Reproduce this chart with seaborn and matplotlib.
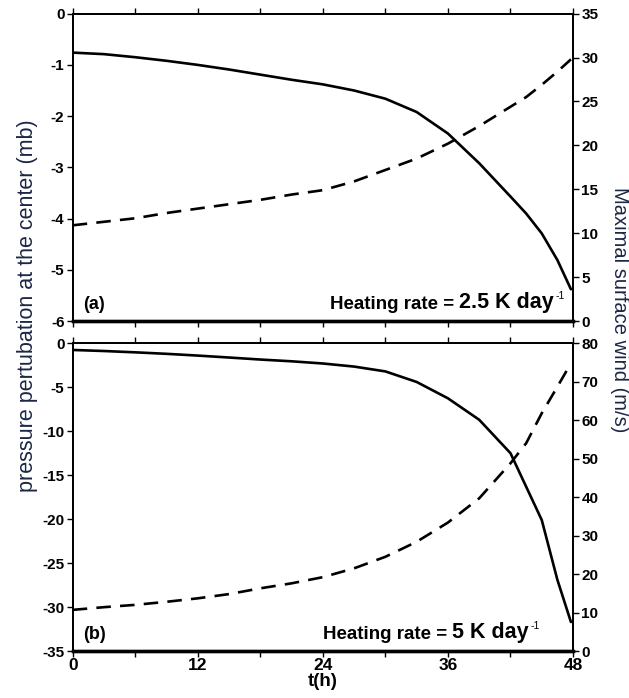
import matplotlib
matplotlib.use("Agg")
import matplotlib.pyplot as plt
import seaborn as sns
import numpy as np
import pandas as pd

# Model output: central pressure perturbation and maximal surface wind vs time
t_hours = [0, 3, 6, 9, 12, 15, 18, 21, 24, 27, 30, 33, 36, 39, 42, 43.5, 45, 46.5, 47.8]

# (a) heating rate 2.5 K/day
p_a = [-0.76, -0.79, -0.85, -0.92, -1.0, -1.09, -1.19, -1.29, -1.38, -1.5, -1.66, -1.92,
       -2.34, -2.92, -3.57, -3.9, -4.29, -4.81, -5.38]
w_a = [10.9, 11.3, 11.7, 12.3, 12.8, 13.3, 13.8, 14.4, 14.9, 15.9, 17.2, 18.5,
       20.2, 22.2, 24.4, 25.5, 26.9, 28.4, 29.8]

# (b) heating rate 5 K/day
p_b = [-0.76, -0.88, -1.03, -1.2, -1.4, -1.62, -1.85, -2.05, -2.3, -2.65, -3.2, -4.4,
       -6.26, -8.7, -12.5, -16.3, -20.1, -26.9, -31.7]
w_b = [10.7, 11.4, 12.0, 12.8, 13.7, 14.8, 16.3, 17.6, 19.2, 21.5, 24.5, 28.4,
       33.4, 39.7, 48.8, 54.0, 61.8, 68.7, 74.8]

x_major = [0, 12, 24, 36, 48]
x_minor = [6, 18, 30, 42]

sns.set_theme(style="white")
plt.rcParams["font.family"] = ["Liberation Sans", "DejaVu Sans"]

label_color = "#1c2746"

fig = plt.figure(figsize=(6.29, 6.98), dpi=100)
ax_a = fig.add_axes([0.1156, 0.5401, 0.7954, 0.4403])
ax_b = fig.add_axes([0.1156, 0.0673, 0.7954, 0.4409])

panels = [
    (ax_a, p_a, w_a, (-6, 0), np.arange(-6, 1, 1), (0, 35), np.arange(0, 36, 5),
     "(a)", "2.5", 0.962),
    (ax_b, p_b, w_b, (-35, 0), np.arange(-35, 1, 5), (0, 80), np.arange(0, 81, 10),
     "(b)", "5", 0.912),
]

for i, (ax, p, w, plim, pticks, wlim, wticks, tag, rate, rate_x) in enumerate(panels):
    df = pd.DataFrame({"t": t_hours, "p": p, "w": w})
    sns.lineplot(data=df, x="t", y="p", ax=ax, color="black", lw=1.9)
    ax2 = ax.twinx()
    sns.lineplot(data=df, x="t", y="w", ax=ax2, color="black", lw=1.9,
                 linestyle=(0, (5.5, 3.5)))

    ax.set_xlim(0, 48)
    ax.set_ylim(*plim)
    ax.set_yticks(pticks)
    ax.set_yticklabels([str(v) for v in pticks])
    ax2.set_ylim(*wlim)
    ax2.set_yticks(wticks)
    ax2.set_yticklabels([str(v) for v in wticks])
    ax.set_xticks(x_major)
    ax.set_xticks(x_minor, minor=True)
    ax.set_xlabel("")
    ax.set_ylabel("")
    ax2.set_ylabel("")
    ax2.set_xlabel("")

    for a in (ax, ax2):
        for s in a.spines.values():
            s.set_color("black")
            s.set_linewidth(1.3)
        a.spines["bottom"].set_linewidth(2.4)
    ax.tick_params(axis="both", which="both", direction="out", length=4, width=1,
                   colors="black", top=True, bottom=True, left=True)
    ax2.tick_params(axis="y", direction="out", length=4, width=1, colors="black", right=True)
    for lab in ax.get_yticklabels() + ax2.get_yticklabels():
        lab.set_fontweight("bold")
        lab.set_fontsize(11)
    ax.tick_params(axis="y", pad=2)
    ax2.tick_params(axis="y", pad=2)
    if i == 0:
        ax.tick_params(axis="x", labelbottom=False)
    else:
        ax.tick_params(axis="x", pad=1)
        for lab in ax.get_xticklabels():
            lab.set_fontweight("bold")
            lab.set_fontsize(12.5)

    ax.text(0.02, 0.04, tag, transform=ax.transAxes, fontsize=13,
            fontweight="bold", ha="left", va="baseline", color="black")
    # "2.5 K day", with a small "-1" exponent and the "Heating rate =" lead-in
    rate_txt = ax.text(rate_x, 0.042, f"{rate} K day", transform=ax.transAxes,
                       fontsize=15.5, fontweight="bold", ha="right", va="baseline",
                       color="black")
    ax.annotate("-1", xy=(1, 1), xycoords=rate_txt, xytext=(1, 1),
                textcoords="offset points", fontsize=7.5, ha="left", va="top",
                color="black")
    ax.annotate("Heating rate = ", xy=(0, 0), xycoords=rate_txt, fontsize=13.5,
                fontweight="bold", ha="right", va="bottom", color="black")

fig.text(0.513, 0.023, "t(h)", ha="center", va="center", fontsize=13.5,
         fontweight="bold", color="black")
fig.text(0.044, 0.562, "pressure pertubation at the center (mb)", rotation=90,
         ha="center", va="center", fontsize=15.5, color=label_color)
fig.text(0.985, 0.556, "Maximal surface wind (m/s)", rotation=270,
         ha="center", va="center", fontsize=14.5, color=label_color)

fig.savefig("out.png", dpi=100, facecolor="white")
